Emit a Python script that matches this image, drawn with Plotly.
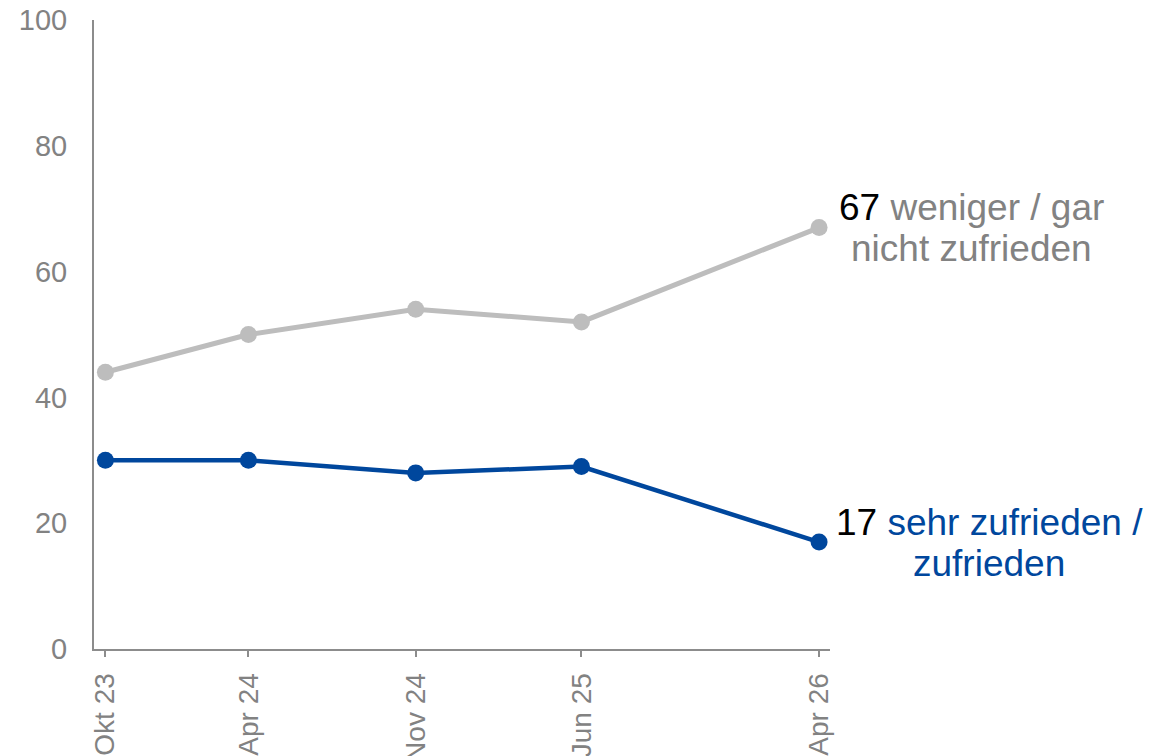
import plotly.graph_objects as go

dates = ["2023-10-01", "2024-04-01", "2024-11-01", "2025-06-01", "2026-04-01"]
tick_labels = ["Okt 23", "Apr 24", "Nov 24", "Jun 25", "Apr 26"]
unzufrieden = [44, 50, 54, 52, 67]
zufrieden = [30, 30, 28, 29, 17]
label_unzufrieden = ["weniger / gar", "nicht zufrieden"]
label_zufrieden = ["sehr zufrieden /", "zufrieden"]

GRAY_LINE = "#bdbdbd"
BLUE = "#00479d"
TEXT_GRAY = "#828282"
AXIS_GRAY = "#8c8c8c"
FONT = "Arial, Liberation Sans, sans-serif"

fig = go.Figure()
fig.add_trace(go.Scatter(
    x=dates, y=unzufrieden, mode="lines+markers",
    line=dict(color=GRAY_LINE, width=5),
    marker=dict(color=GRAY_LINE, size=17),
    showlegend=False, hoverinfo="skip"))
fig.add_trace(go.Scatter(
    x=dates, y=zufrieden, mode="lines+markers",
    line=dict(color=BLUE, width=4.5),
    marker=dict(color=BLUE, size=17),
    showlegend=False, hoverinfo="skip"))

xrange = ["2023-09-16 10:00", "2026-04-15"]

# page body has an 8px default margin -> margins compensate for it
fig.update_layout(
    width=1166, height=756,
    margin=dict(l=86, r=344, t=12, b=115),
    plot_bgcolor="white", paper_bgcolor="white",
    font=dict(family=FONT, color=TEXT_GRAY),
    xaxis=dict(
        type="date", range=xrange, automargin=False,
        tickmode="array", tickvals=dates, ticktext=tick_labels,
        tickangle=-90, tickfont=dict(size=28, color=TEXT_GRAY, family=FONT),
        ticks="outside", ticklen=6, tickwidth=1.5, tickcolor=AXIS_GRAY,
        showline=True, linecolor=AXIS_GRAY, linewidth=2,
        showgrid=False, zeroline=False, fixedrange=True,
        ticklabelstandoff=5, ticklabeloverflow="allow",
    ),
    xaxis2=dict(
        type="date", range=xrange, overlaying="x", anchor="y", side="bottom",
        automargin=False,
        tickmode="array", tickvals=dates,
        ticks="inside", ticklen=6, tickwidth=1.5, tickcolor=AXIS_GRAY,
        showticklabels=False, showline=False, showgrid=False, zeroline=False,
    ),
    yaxis=dict(
        range=[0, 100], tickmode="array", tickvals=[0, 20, 40, 60, 80, 100],
        automargin=False,
        tickfont=dict(size=29, color=TEXT_GRAY, family=FONT),
        ticks="", showline=True, linecolor=AXIS_GRAY, linewidth=2,
        showgrid=False, zeroline=False, ticklabelstandoff=19,
        ticklabeloverflow="allow",
    ),
)

ANN_FONT = 37
# (value, lines, text colour, horizontal centre offset of the text block from the point)
labels = [
    (unzufrieden[-1], label_unzufrieden, TEXT_GRAY, 152),
    (zufrieden[-1], label_zufrieden, BLUE, 170),
]
for val, lines, col, cx in labels:
    fig.add_annotation(
        x=dates[-1], y=val, xref="x", yref="y",
        text=f"<span style='color:black'>{val}</span> {lines[0]}",
        showarrow=False, xanchor="center", yanchor="middle",
        xshift=cx, yshift=20, font=dict(size=ANN_FONT, color=col, family=FONT))
    fig.add_annotation(
        x=dates[-1], y=val, xref="x", yref="y",
        text=lines[1],
        showarrow=False, xanchor="center", yanchor="middle",
        xshift=cx, yshift=-21, font=dict(size=ANN_FONT, color=col, family=FONT))

fig.write_html("out.html")
